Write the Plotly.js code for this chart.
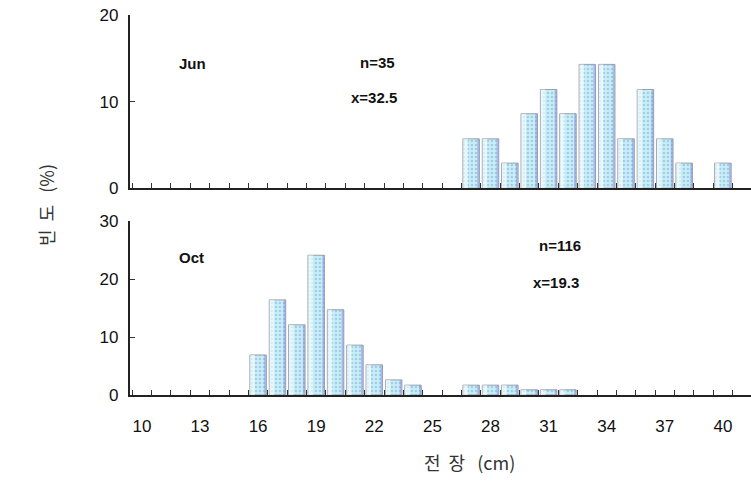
<!DOCTYPE html>
<html>
<head>
<meta charset="utf-8">
<script src="https://cdn.plot.ly/plotly-3.0.1.min.js"></script>
<style>html,body{margin:0;padding:0;background:#fff;}#chart{width:751px;height:494px;}</style>
</head>
<body>
<div id="chart"></div>
<script>
// Body length (cm) classes and frequency (%)
const junLength = [27, 28, 29, 30, 31, 32, 33, 34, 35, 36, 37, 38, 40];
const junFreq   = [5.7, 5.7, 2.9, 8.6, 11.4, 8.6, 14.3, 14.3, 5.7, 11.4, 5.7, 2.9, 2.9];
const octLength = [16, 17, 18, 19, 20, 21, 22, 23, 24, 27, 28, 29, 30, 31, 32];
const octFreq   = [6.9, 16.4, 12.1, 24.1, 14.7, 8.6, 5.2, 2.6, 1.7, 1.7, 1.7, 1.7, 0.9, 0.9, 0.9];
const xTickVals = [10, 13, 16, 19, 22, 25, 28, 31, 34, 37, 40];
const xTickText = ['10', '13', '16', '19', '22', '25', '28', '31', '34', '37', '40'];
const junTicks = [0, 10, 20];
const octTicks = [0, 10, 20, 30];
const panelLabels = ['Jun', 'Oct'];
const statsJun = ['n=35', 'x=32.5'];
const statsOct = ['n=116', 'x=19.3'];
const yTitle = '빈\u00a0\u00a0도\u00a0\u00a0\u00a0(%)';
const xTitle = '전\u00a0\u00a0장\u00a0\u00a0\u00a0(cm)';

const barMarker = {
  color: '#c2f1f3',
  line: {color: '#9aa0aa', width: 1},
  pattern: {shape: '.', fgcolor: '#a9c6ee', bgcolor: '#c4f2f4', size: 4, solidity: 0.3}
};
const lightStrip = {color: 'rgba(255,255,255,0.6)', line: {width: 0}};
const darkStrip = {color: 'rgba(130,130,220,0.45)', line: {width: 0}};

function panelTraces(xs, ys, xa, ya) {
  return [
    {type: 'bar', x: xs, y: ys, width: 0.85, offset: -0.425, xaxis: xa, yaxis: ya, marker: barMarker, hoverinfo: 'x+y'},
    {type: 'bar', x: xs, y: ys, width: 0.24, offset: -0.41, xaxis: xa, yaxis: ya, marker: lightStrip, hoverinfo: 'skip'},
    {type: 'bar', x: xs, y: ys, width: 0.1, offset: 0.31, xaxis: xa, yaxis: ya, marker: darkStrip, hoverinfo: 'skip'}
  ];
}

const traces = panelTraces(junLength, junFreq, 'x2', 'y2').concat(panelTraces(octLength, octFreq, 'x', 'y'));

const tickFont = {family: 'Liberation Sans, Arial, sans-serif', size: 17, color: '#111'};
const textFont = {family: 'Liberation Sans, Arial, sans-serif', size: 15, color: '#111', weight: 'bold'};
const minorTicks = {tickmode: 'linear', tick0: 0.5, dtick: 1, ticks: 'inside', ticklen: 5, tickcolor: '#333', tickwidth: 1};
const xRange = [9.38, 41.45];

const layout = {
  width: 751, height: 494,
  margin: {l: 0, r: 0, t: 0, b: 0},
  paper_bgcolor: '#fff', plot_bgcolor: '#fff',
  showlegend: false,
  barmode: 'overlay',
  xaxis: {
    domain: [0.173, 1], anchor: 'y', range: xRange,
    tickmode: 'array', tickvals: xTickVals, ticktext: xTickText, ticks: '',
    tickfont: tickFont, ticklabelstandoff: 15,
    showline: true, linecolor: '#222', linewidth: 2, showgrid: false, zeroline: false,
    minor: minorTicks
  },
  yaxis: {
    domain: [0.2004, 0.5526], anchor: 'x', range: [0, 30],
    tickmode: 'array', tickvals: octTicks, ticks: 'inside', ticklen: 5, tickcolor: '#333',
    tickfont: tickFont, ticklabelstandoff: 6,
    showline: true, linecolor: '#222', linewidth: 2, showgrid: false, zeroline: false
  },
  xaxis2: {
    domain: [0.173, 1], anchor: 'y2', range: xRange, showticklabels: false, ticks: '',
    showline: true, linecolor: '#222', linewidth: 2, showgrid: false, zeroline: false,
    minor: minorTicks
  },
  yaxis2: {
    domain: [0.619, 0.9696], anchor: 'x2', range: [0, 20],
    tickmode: 'array', tickvals: junTicks, ticks: 'inside', ticklen: 5, tickcolor: '#333',
    tickfont: tickFont, ticklabelstandoff: 6,
    showline: true, linecolor: '#222', linewidth: 2, showgrid: false, zeroline: false
  },
  annotations: [
    {xref: 'paper', yref: 'paper', x: 177 / 751, y: 1 - 53 / 494, text: panelLabels[0], showarrow: false, font: textFont},
    {xref: 'paper', yref: 'paper', x: 377 / 751, y: 1 - 52 / 494, text: statsJun[0], showarrow: false, font: textFont},
    {xref: 'paper', yref: 'paper', x: 374 / 751, y: 1 - 87 / 494, text: statsJun[1], showarrow: false, font: textFont},
    {xref: 'paper', yref: 'paper', x: 177 / 751, y: 1 - 257 / 494, text: panelLabels[1], showarrow: false, font: textFont},
    {xref: 'paper', yref: 'paper', x: 583 / 751, y: 1 - 245 / 494, text: statsOct[0], showarrow: false, font: textFont},
    {xref: 'paper', yref: 'paper', x: 581 / 751, y: 1 - 282 / 494, text: statsOct[1], showarrow: false, font: textFont},
    {xref: 'paper', yref: 'paper', x: 31 / 751, y: 1 - 205 / 494, text: yTitle, textangle: -90, showarrow: false,
     font: {family: 'Noto Sans CJK KR, sans-serif', size: 18, color: '#333'}},
    {xref: 'paper', yref: 'paper', x: 470 / 751, y: 1 - 477 / 494, text: xTitle, showarrow: false,
     font: {family: 'Noto Sans CJK KR, serif', size: 18, color: '#333'}}
  ]
};

Plotly.newPlot('chart', traces, layout, {displayModeBar: false, staticPlot: true});
</script>
</body>
</html>
